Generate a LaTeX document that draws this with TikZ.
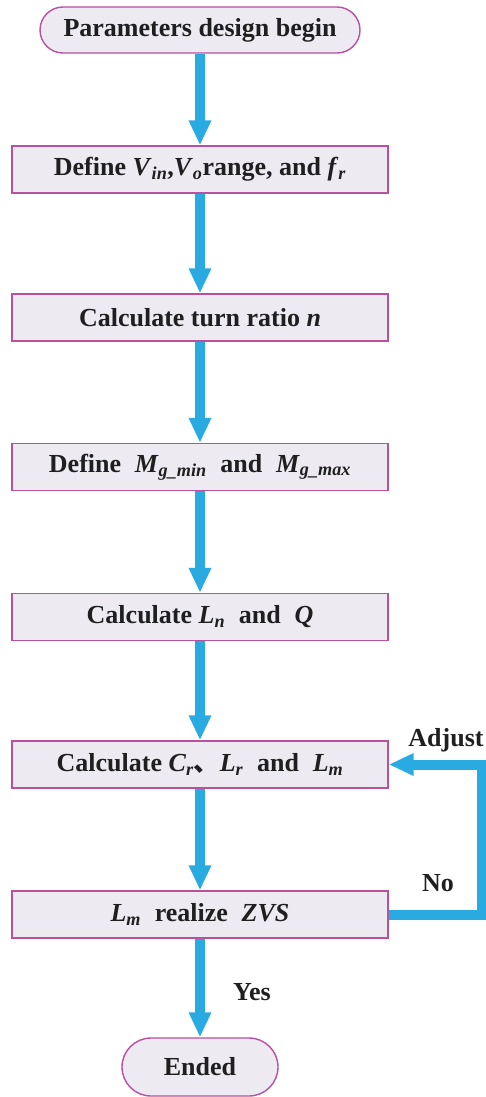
\documentclass[tikz,border=0pt]{standalone}
\usepackage{fontspec}
\setmainfont{Liberation Serif}
\newfontfamily\cjk{Noto Sans CJK SC}
\usetikzlibrary{arrows.meta,positioning}
\definecolor{boxline}{RGB}{185,80,160}
\definecolor{boxfill}{RGB}{237,234,242}
\definecolor{flowblue}{RGB}{41,171,226}
\newcommand{\pv}[2]{\textit{#1}\textsubscript{\textit{#2}}}
\tikzset{
  procbox/.style={draw=boxline, fill=boxfill, line width=1.4pt, minimum width=376pt,
    minimum height=47pt, inner sep=0pt, font=\fontsize{26}{30}\selectfont\bfseries, text=black!88},
  termbox/.style={procbox, rounded corners=23pt},
  flowarrow/.style={draw=flowblue, line width=10pt, -{Triangle[width=21pt,length=25pt]}},
  flowlabel/.style={font=\fontsize{26}{30}\selectfont\bfseries, text=black!88}
}
\begin{document}
\begin{tikzpicture}[x=1pt, y=-1pt]
    \useasboundingbox (0,0) rectangle (486,1097);
    % steps of the design
    \node[termbox, minimum width=320pt, minimum height=46pt] (begin) at (200,30) {Parameters design begin};
    \node[procbox] (range) at (200,169.5) {Define \pv{V}{in},\pv{V}{o}range, and \textit{f}\textsubscript{\textit{r}}};
    \node[procbox] (ratio) at (200,317.5) {Calculate turn ratio \textit{n}};
    \node[procbox] (gain) at (200,467) {Define \;\pv{M}{g\_min}\; and \;\pv{M}{g\_max}};
    \node[procbox] (lnq) at (200,617) {Calculate \pv{L}{n}\; and \;\textit{Q}};
    \node[procbox] (calc) at (200,764.5) {Calculate \pv{C}{r}{\cjk 、}\pv{L}{r}\; and \;\pv{L}{m}};
    \node[procbox] (zvs) at (200,914.5) {\pv{L}{m}\; realize \;\textit{ZVS}};
    \node[termbox, minimum width=156pt, minimum height=58pt, rounded corners=29pt] (ended) at (200,1067) {Ended};
    % main flow
    \draw[flowarrow] (begin) -- (range);
    \draw[flowarrow] (range) -- (ratio);
    \draw[flowarrow] (ratio) -- (gain);
    \draw[flowarrow] (gain) -- (lnq);
    \draw[flowarrow] (lnq) -- (calc);
    \draw[flowarrow] (calc) -- (zvs);
    \draw[flowarrow] (zvs) -- (ended);
    % feedback loop
    \draw[flowarrow] (zvs.east) -- ++(93,0) |- (calc.east);
    \node[flowlabel] (adjust) at (446,740) {Adjust};
    \node[flowlabel] (no) at (438,883) {No};
    \node[flowlabel] (yes) at (252,992) {Yes};
\end{tikzpicture}
\end{document}
